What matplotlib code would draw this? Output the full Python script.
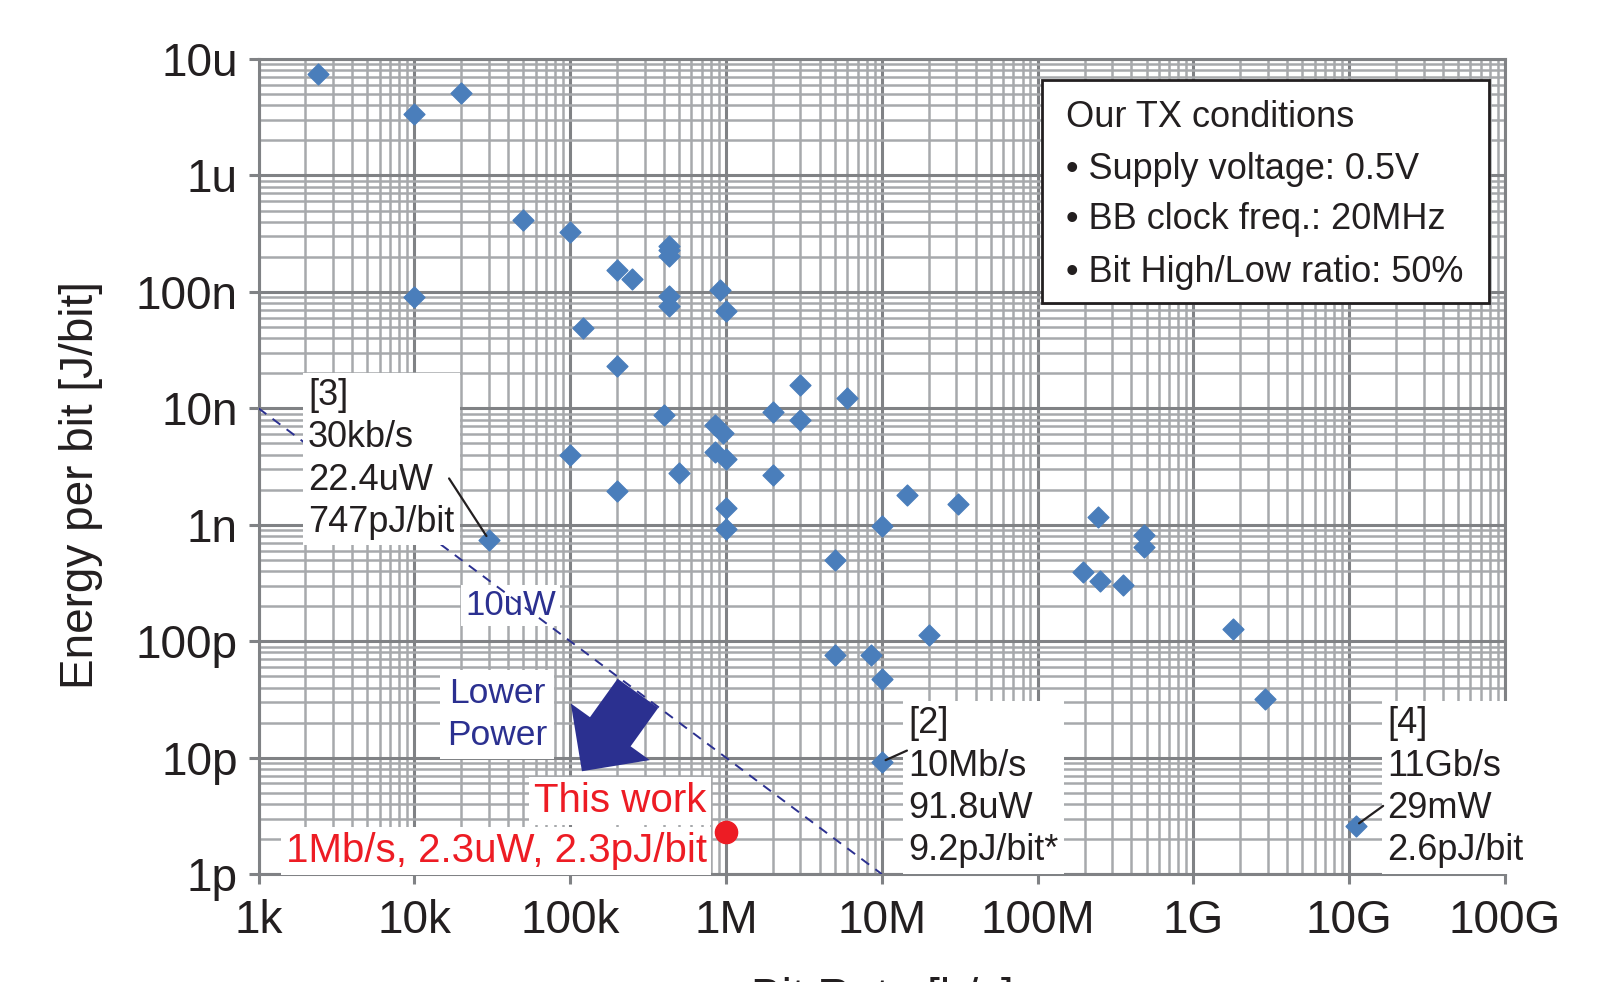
import numpy as np
import matplotlib
matplotlib.use("Agg")
import matplotlib.pyplot as plt
from matplotlib.path import Path
from matplotlib.patches import Rectangle, FancyArrowPatch
from matplotlib.ticker import LogLocator, NullFormatter

# ------------------------------------------------------------
# DATA
# ------------------------------------------------------------

bit_rate = [2.4e3, 1e4, 2e4, 1e4, 5e4, 1e5, 2e5, 2.5e5, 4.3e5, 4.3e5,
            4.3e5, 4.3e5, 4.3e5, 9.2e5, 1e6, 1.2e5, 2e5, 1e5, 2e5, 4e5,
            8.5e5, 9.5e5, 8.5e5, 1e6, 5e5, 1e6, 1e6, 2e6, 2e6, 3e6,
            3e6, 6e6, 5e6, 5e6, 8.5e6, 1e7, 1e7, 1.45e7, 2e7, 3.1e7,
            1.95e8, 2.45e8, 2.5e8, 3.55e8, 4.8e8, 4.8e8, 1.8e9, 2.9e9,
            1e7, 1.1e10, 3e4]
energy = [7.5e-6, 3.4e-6, 5.1e-6, 9.0e-8, 4.15e-7, 3.3e-7, 1.55e-7, 1.3e-7, 2.5e-7, 2.3e-7,
          2.05e-7, 9.2e-8, 7.5e-8, 1.03e-7, 6.8e-8, 4.9e-8, 2.3e-8, 4.0e-9, 1.95e-9, 8.8e-9,
          7.2e-9, 6.2e-9, 4.2e-9, 3.7e-9, 2.8e-9, 1.4e-9, 9.2e-10, 9.3e-9, 2.7e-9, 1.6e-8,
          7.9e-9, 1.23e-8, 5.0e-10, 7.6e-11, 7.6e-11, 4.7e-11, 9.7e-10, 1.8e-9, 1.12e-10, 1.5e-9,
          3.9e-10, 1.17e-9, 3.3e-10, 3.05e-10, 8.2e-10, 6.4e-10, 1.27e-10, 3.2e-11,
          9.2e-12, 2.6e-12, 7.47e-10]

this_rate = [1e6]
this_energy = [2.3e-12]

# constant power line: 10uW
power_w = 10e-6
line_rate = [1e3, 1e7]

x_ticks = [1e3, 1e4, 1e5, 1e6, 1e7, 1e8, 1e9, 1e10, 1e11]
x_labels = ["1k", "10k", "100k", "1M", "10M", "100M", "1G", "10G", "100G"]
y_ticks = [1e-12, 1e-11, 1e-10, 1e-9, 1e-8, 1e-7, 1e-6, 1e-5]
y_labels = ["1p", "10p", "100p", "1n", "10n", "100n", "1u", "10u"]

legend_title = "Our TX conditions"
legend_items = ["Supply voltage: 0.5V", "BB clock freq.: 20MHz", "Bit High/Low ratio: 50%"]

# ------------------------------------------------------------
# STYLE
# ------------------------------------------------------------

plt.rcParams["font.family"] = ["Liberation Sans", "DejaVu Sans"]
TXT = "#231F20"
BLUE = "#4A7EBB"
NAVY = "#2B3090"
RED = "#ED1C24"

diamond = Path([(0, 1), (1, 0), (0, -1), (-1, 0), (0, 1)],
               [Path.MOVETO, Path.LINETO, Path.LINETO, Path.LINETO, Path.CLOSEPOLY])

fig = plt.figure(figsize=(16.22, 9.82), dpi=100)
ax = fig.add_axes([0.1594, 0.1099, 0.7685, 0.8300])

ax.set_xscale("log")
ax.set_yscale("log")
ax.set_xlim(1e3, 1e11)
ax.set_ylim(1e-12, 1e-5)

ax.xaxis.set_minor_locator(LogLocator(base=10, subs=np.arange(2, 10)))
ax.yaxis.set_minor_locator(LogLocator(base=10, subs=np.arange(2, 10)))
ax.xaxis.set_minor_formatter(NullFormatter())
ax.yaxis.set_minor_formatter(NullFormatter())
ax.set_xticks(x_ticks)
ax.set_xticklabels(x_labels)
ax.set_yticks(y_ticks)
ax.set_yticklabels(y_labels)

ax.set_axisbelow(True)
ax.grid(which="major", color="#808285", lw=2.2)
ax.grid(which="minor", color="#A7A9AC", lw=1.8)
ax.tick_params(which="major", direction="out", length=7, width=2.2, color="#808285",
               labelsize=33, labelcolor=TXT)
ax.tick_params(axis="y", which="major", pad=8)
ax.tick_params(axis="x", which="major", pad=11)
ax.tick_params(which="minor", length=0)
for sp in ax.spines.values():
    sp.set_color("#808285")
    sp.set_linewidth(2.2)

# ------------------------------------------------------------
# MARKS
# ------------------------------------------------------------

ax.plot(bit_rate, energy, ls="none", marker=diamond, ms=15, color=BLUE, zorder=4)
ax.plot(this_rate, this_energy, ls="none", marker="o", ms=16, color=RED, zorder=4)

line_energy = [power_w / r for r in line_rate]
ax.plot(line_rate, line_energy, color=NAVY, lw=1.4, ls=(0, (5, 4)), zorder=3)
ax.text(4.14e4, 1.69e-10, "10uW", color=NAVY, fontsize=25, ha="center", va="baseline",
        zorder=2.5, bbox=dict(boxstyle="square,pad=0.12", fc="white", ec="none"))

# ------------------------------------------------------------
# ANNOTATIONS
# ------------------------------------------------------------

box = dict(boxstyle="square,pad=0.15", fc="white", ec="none")
ann_kw = dict(fontsize=26, color=TXT, ha="left", va="top", linespacing=1.27,
              zorder=5, bbox=box, clip_on=False)

ax.text(2.08e3, 1.82e-8, "[3]\n30kb/s\n22.4uW\n747pJ/bit", **ann_kw)
ax.text(1.476e7, 2.75e-11, "[2]\n10Mb/s\n91.8uW\n9.2pJ/bit*", **ann_kw)
ax.text(1.75e10, 2.75e-11, "[4]\n11Gb/s\n29mW\n2.6pJ/bit", **ann_kw)

lead = dict(arrowstyle="-", color=TXT, lw=1.6, shrinkA=0, shrinkB=3)
ax.annotate("", xy=(3e4, 7.47e-10), xytext=(1.67e4, 2.5e-9), arrowprops=lead, zorder=7)
ax.annotate("", xy=(1e7, 9.2e-12), xytext=(1.45e7, 1.15e-11), arrowprops=lead, zorder=7)
ax.annotate("", xy=(1.1e10, 2.6e-12), xytext=(1.65e10, 3.85e-12), arrowprops=lead,
            zorder=7, annotation_clip=False)

ax.text(7.5e5, 3.42e-12, "This work", fontsize=29, color=RED, ha="right", va="baseline",
        zorder=5, bbox=dict(boxstyle="square,pad=0.12", fc="white", ec="none"))
ax.text(7.5e5, 1.27e-12, "1Mb/s, 2.3uW, 2.3pJ/bit", fontsize=29, color=RED, ha="right",
        va="baseline", zorder=5,
        bbox=dict(boxstyle="square,pad=0.12", fc="white", ec="none"))

ax.text(3.39e4, 4.89e-11, "Lower\nPower", fontsize=25.5, color=NAVY, ha="center",
        va="top", multialignment="center", linespacing=1.33, zorder=5,
        bbox=dict(boxstyle="square,pad=0.2", fc="white", ec="none"))

arrow = FancyArrowPatch((2.72e5, 3.57e-11), (1.19e5, 7.64e-12),
                        arrowstyle="simple,head_length=35,head_width=70,tail_width=36",
                        mutation_scale=1, color=NAVY, lw=0, shrinkA=0, shrinkB=0,
                        zorder=6)
ax.add_patch(arrow)

# legend-like box with the TX conditions
ax.add_patch(Rectangle((0.6285, 0.7007), 0.3585, 0.2733, transform=ax.transAxes,
                       fc="white", ec=TXT, lw=2, zorder=5))
leg_rows = [legend_title] + ["\u2022 " + s for s in legend_items]
leg_y = [0.9166, 0.8528, 0.7915, 0.7264]
for txt, yy in zip(leg_rows, leg_y):
    ax.text(0.6478, yy, txt, transform=ax.transAxes, fontsize=26, color=TXT,
            ha="left", va="baseline", zorder=6)

# axis titles
fig.text(0.05, 0.506, "Energy per bit [J/bit]", rotation=90, ha="center", va="center",
         fontsize=33, color=TXT)
fig.text(0.544, 0.005, "Bit Rate [b/s]", ha="center", va="top", fontsize=33, color=TXT)

fig.savefig("out.png", dpi=100)
